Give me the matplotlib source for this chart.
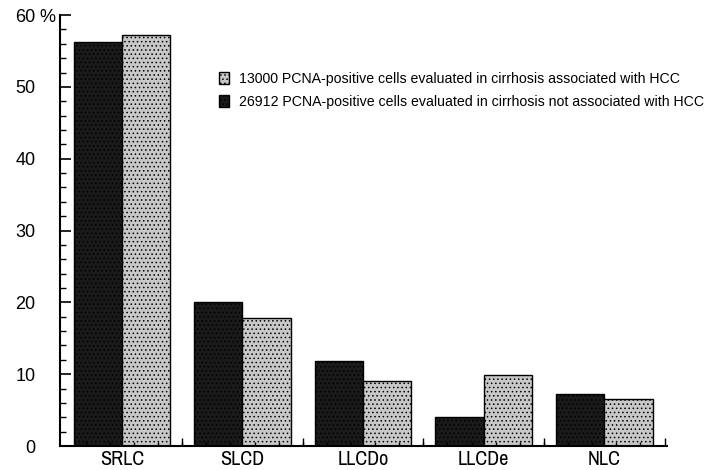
import numpy as np
import matplotlib.pyplot as plt
from matplotlib import font_manager

categories = ["SRLC", "SLCD", "LLCDo", "LLCDe", "NLC"]
not_hcc = [56.2, 20.0, 11.9, 4.0, 7.3]     # 26912 cells, dark bars
with_hcc = [57.2, 17.8, 9.0, 9.9, 6.5]     # 13000 cells, light bars
yticks = [0, 10, 20, 30, 40, 50, 60]
ytick_labels = ["0", "10", "20", "30", "40", "50", "60"]

# condensed face for the category names, if there is one
names = {f.name for f in font_manager.fontManager.ttflist}
narrow = None
for cand in ["Liberation Sans Narrow", "Arial Narrow", "Archivo Narrow"]:
    if cand in names:
        narrow = cand
        break
if narrow:
    cat_fam, cat_size = [narrow, "DejaVu Sans"], 14.5
else:
    cat_fam, cat_size = ["Liberation Sans", "DejaVu Sans"], 12.5

plt.rcParams["font.family"] = ["Liberation Sans", "DejaVu Sans"]
plt.rcParams["hatch.linewidth"] = 0.6

fig = plt.figure(figsize=(7.18, 4.70), dpi=100)
ax = fig.add_axes([0.084, 0.051, 0.845, 0.917])

x = np.arange(len(categories))
w = 0.4
ax.bar(x - w / 2, not_hcc, w, color="#1a1a1a", edgecolor="black", linewidth=1,
       hatch="....", label="26912 PCNA-positive cells evaluated in cirrhosis not associated with HCC")
ax.bar(x + w / 2, with_hcc, w, color="#c8c8c8", edgecolor="black", linewidth=1,
       hatch="....", label="13000 PCNA-positive cells evaluated in cirrhosis associated with HCC")

ax.set_xlim(-0.51, 4.52)
ax.set_ylim(0, 60)
ax.spines["top"].set_visible(False)
ax.spines["right"].set_visible(False)
ax.spines["left"].set_linewidth(1.5)
ax.spines["bottom"].set_linewidth(1.5)

# y axis
ax.set_yticks(yticks)
ax.set_yticklabels(ytick_labels, fontsize=13)
ax.set_yticks(np.arange(0, 61, 2), minor=True)
ax.tick_params(axis="y", which="major", direction="in", length=8, width=1.2, pad=18)
ax.tick_params(axis="y", which="minor", direction="in", length=4, width=1)
ax.text(-0.034, 60, "%", transform=ax.get_yaxis_transform(), fontsize=13,
        ha="left", va="center_baseline")

# x axis: names at centres, small ticks every 0.2, longer ones between groups
ax.set_xticks(x)
ax.set_xticklabels(categories, fontsize=cat_size, family=cat_fam)
ax.tick_params(axis="x", which="major", length=0, pad=3)
ax.set_xticks(np.arange(-0.3, 4.5, 0.2), minor=True)
ax.tick_params(axis="x", which="minor", direction="in", length=3, width=1)
sec = ax.secondary_xaxis("bottom")
sec.set_xticks(np.arange(0.5, 5, 1))
sec.set_xticklabels([])
sec.tick_params(direction="in", length=6, width=1)
sec.spines["bottom"].set_visible(False)

h, l = ax.get_legend_handles_labels()
ax.legend(h[::-1], l[::-1], loc="upper left", bbox_to_anchor=(0.25, 0.884),
          frameon=False, fontsize=10.2, borderpad=0,
          handlelength=0.7, handleheight=0.9, handletextpad=0.7, labelspacing=0.62)

fig.savefig("out.png", dpi=100)
